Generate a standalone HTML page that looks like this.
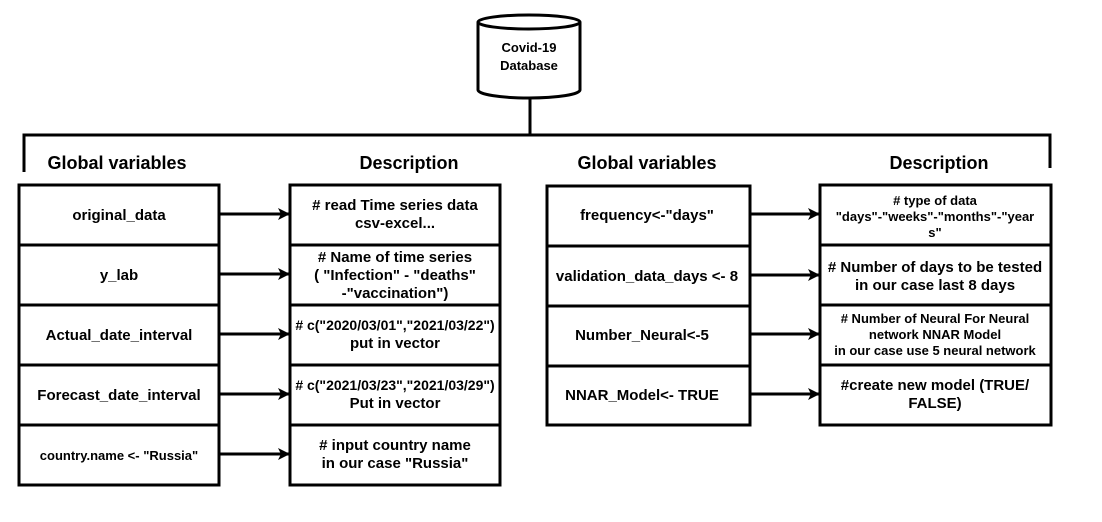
<!DOCTYPE html>
<html><head><style>body{margin:0;background:#fff}</style></head><body>
<svg width="1102" height="517" xmlns="http://www.w3.org/2000/svg" font-family="Liberation Sans, Arial, sans-serif" font-weight="bold">
<rect width="1102" height="517" fill="#fff"/>
<defs><marker id="a" markerWidth="12" markerHeight="12" refX="11" refY="6" orient="auto" markerUnits="userSpaceOnUse"><path d="M0,0 L12,6 L0,12 L3,6 z" fill="#000"/></marker></defs>
<g stroke="#000" stroke-width="3" fill="none">
<path d="M478,22 L478,90 A51,8 0 0 0 580,90 L580,22"/>
<ellipse cx="529" cy="22" rx="51" ry="7"/>
<line x1="530" y1="97" x2="530" y2="135"/>
<path d="M24,172 L24,135 L1050,135 L1050,168"/>
<rect x="19" y="185" width="200" height="300"/>
<line x1="19" y1="245" x2="219" y2="245"/><line x1="19" y1="305" x2="219" y2="305"/><line x1="19" y1="365" x2="219" y2="365"/><line x1="19" y1="425" x2="219" y2="425"/>
<rect x="290" y="185" width="210" height="300"/>
<line x1="290" y1="245" x2="500" y2="245"/><line x1="290" y1="305" x2="500" y2="305"/><line x1="290" y1="365" x2="500" y2="365"/><line x1="290" y1="425" x2="500" y2="425"/>
<rect x="547" y="186" width="203" height="239"/>
<line x1="547" y1="246" x2="750" y2="246"/><line x1="547" y1="306" x2="750" y2="306"/><line x1="547" y1="366" x2="750" y2="366"/>
<rect x="820" y="185" width="231" height="240"/>
<line x1="820" y1="245" x2="1051" y2="245"/><line x1="820" y1="305" x2="1051" y2="305"/><line x1="820" y1="365" x2="1051" y2="365"/>
</g>
<g stroke="#000" stroke-width="3" marker-end="url(#a)">
<line x1="219" y1="214" x2="289" y2="214"/><line x1="219" y1="274" x2="289" y2="274"/><line x1="219" y1="334" x2="289" y2="334"/><line x1="219" y1="394" x2="289" y2="394"/><line x1="219" y1="454" x2="289" y2="454"/>
<line x1="750" y1="214" x2="819" y2="214"/><line x1="750" y1="275" x2="819" y2="275"/><line x1="750" y1="334" x2="819" y2="334"/><line x1="750" y1="394" x2="819" y2="394"/>
</g>
<g text-anchor="middle" fill="#000">
<text x="529" y="52" font-size="13">Covid-19</text><text x="529" y="70" font-size="13">Database</text>
<g font-size="18"><text x="117" y="169">Global variables</text><text x="409" y="169">Description</text><text x="647" y="169">Global variables</text><text x="939" y="169">Description</text></g>
<g font-size="15">
<text x="119" y="220">original_data</text>
<text x="119" y="280">y_lab</text>
<text x="119" y="340">Actual_date_interval</text>
<text x="119" y="400">Forecast_date_interval</text>
<text x="119" y="460" font-size="13">country.name &lt;- "Russia"</text>
<text x="395" y="210">#  read Time series data</text><text x="395" y="228">csv-excel...</text>
<text x="395" y="262">#  Name of time series</text><text x="395" y="280">( "Infection" - "deaths"</text><text x="395" y="298">-"vaccination")</text>
<text x="395" y="330" font-size="14">#  c("2020/03/01","2021/03/22")</text><text x="395" y="348">put in vector</text>
<text x="395" y="390" font-size="14">#  c("2021/03/23","2021/03/29")</text><text x="395" y="408">Put in vector</text>
<text x="395" y="450">#  input country name</text><text x="395" y="468">in our case "Russia"</text>
<text x="647" y="220">frequency&lt;-"days"</text>
<text x="647" y="281">validation_data_days &lt;- 8</text>
<text x="642" y="340">Number_Neural&lt;-5</text>
<text x="642" y="400">NNAR_Model&lt;- TRUE</text>
<text x="935" y="205" font-size="13">#  type of data</text><text x="935" y="221" font-size="13">"days"-"weeks"-"months"-"year</text><text x="935" y="237" font-size="13">s"</text>
<text x="935" y="272">#  Number of days to be tested</text><text x="935" y="290">in our case last 8 days</text>
<text x="935" y="323" font-size="13">#  Number of Neural For Neural</text><text x="935" y="339" font-size="13">network NNAR Model</text><text x="935" y="355" font-size="13">in our case use 5 neural network</text>
<text x="935" y="390">#create new model (TRUE/</text><text x="935" y="408">FALSE)</text>
</g></g>
</svg>
</body></html>
